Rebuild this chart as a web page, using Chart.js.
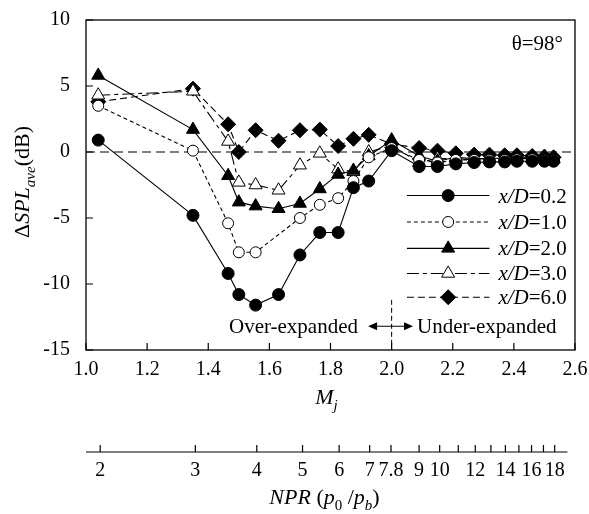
<!DOCTYPE html>
<html lang="en">
<head>
  <meta charset="UTF-8">
  <title>Delta SPL vs Mj</title>
  <script src="https://cdn.jsdelivr.net/npm/chart.js@4.4.1/dist/chart.umd.min.js"></script>
  <style>
    html, body { margin: 0; padding: 0; background: #fff; }
    #chart { display: block; }
  </style>
</head>
<body>
  <canvas id="chart" width="589" height="514"></canvas>
  <script>
    // fully expanded jet Mach number of each run (shared by every series)
    const machJ = [1.04, 1.35, 1.465, 1.50, 1.555, 1.63, 1.70, 1.765, 1.825, 1.875, 1.925, 2.00,
                   2.09, 2.15, 2.21, 2.27, 2.32, 2.37, 2.41, 2.46, 2.50, 2.53];
    const xdLabels = ['0.2', '1.0', '2.0', '3.0', '6.0'];
    const splXD02 = [0.9, -4.8, -9.2, -10.8, -11.6, -10.8, -7.8, -6.1, -6.1, -2.7, -2.2, 0.1,
                     -1.1, -1.1, -0.9, -0.8, -0.75, -0.75, -0.7, -0.7, -0.7, -0.7];
    const splXD10 = [3.5, 0.1, -5.4, -7.6, -7.6, null, -5.0, -4.0, -3.5, -2.2, -0.4, 0.3,
                     -0.6, -0.8, -0.6, -0.6, -0.6, -0.6, -0.55, -0.55, -0.6, -0.6];
    const splXD20 = [5.8, 1.7, -1.8, -3.8, -4.1, -4.3, -3.9, -2.8, -1.7, -1.4, -0.3, 0.9,
                     -0.3, -0.7, -0.4, -0.5, -0.5, -0.45, -0.4, -0.45, -0.5, -0.55];
    const splXD30 = [4.3, 4.6, 0.8, -2.3, -2.5, -2.9, -1.0, -0.1, -1.3, -1.5, 0.0, 0.5,
                     -0.8, -0.5, -0.5, -0.6, -0.55, -0.5, -0.5, -0.5, -0.5, -0.5];
    const splXD60 = [3.8, 4.8, 2.1, 0.0, 1.65, 0.85, 1.65, 1.7, 0.45, 1.0, 1.3, 0.6,
                     0.3, 0.1, -0.1, -0.2, -0.2, -0.25, -0.25, -0.3, -0.35, -0.4];

    const machTicks = [1.0, 1.2, 1.4, 1.6, 1.8, 2.0, 2.2, 2.4, 2.6];
    const yTicks = [-15, -10, -5, 0, 5, 10];
    const nprTicks = [2, 3, 4, 5, 6, 7, 7.8, 9, 10, 11, 12, 13, 14, 15, 16, 17, 18];
    const nprLabels = ['2', '3', '4', '5', '6', '7', '7.8', '9', '10', '', '12', '', '14', '', '16', '', '18'];

    const FONT = '"Liberation Serif", "Times New Roman", serif';

    // isentropic relation NPR -> Mj, used to place the NPR ticks on the Mj scale
    function nprToMach(npr) {
      return Math.sqrt(5 * (Math.pow(npr, 1 / 3.5) - 1));
    }

    function series(i, values, style) {
      return Object.assign({
        label: 'x/D=' + xdLabels[i],
        data: values.map((v, k) => ({ x: machJ[k], y: v })),
        borderColor: '#000',
        borderWidth: 1.1,
        pointBorderColor: '#000',
        pointBorderWidth: 1,
        pointHoverRadius: 0,
        spanGaps: true,
        tension: 0,
        xAxisID: 'x',
        yAxisID: 'y'
      }, style);
    }

    const datasets = [
      series(0, splXD02, { pointStyle: 'circle', pointRadius: 6, pointBackgroundColor: '#000', borderDash: [] }),
      series(1, splXD10, { pointStyle: 'circle', pointRadius: 5.5, pointBackgroundColor: '#fff', borderDash: [4, 3] }),
      series(2, splXD20, { pointStyle: 'triangle', pointRadius: 7.5, pointBackgroundColor: '#000', borderDash: [] }),
      series(3, splXD30, { pointStyle: 'triangle', pointRadius: 7.5, pointBackgroundColor: '#fff', borderDash: [12, 4, 4, 4] }),
      series(4, splXD60, { pointStyle: 'rectRot', pointRadius: 7.5, pointBackgroundColor: '#000', borderDash: [7, 4] })
    ];

    // text with italic parts and subscripts
    function richText(ctx, parts, x, y, size, align) {
      const pieces = parts.map(p => {
        const s = p.sub ? Math.round(size * 0.68) : size;
        const f = (p.it ? 'italic ' : '') + s + 'px ' + FONT;
        ctx.font = f;
        return { t: p.t, f: f, w: ctx.measureText(p.t).width, dy: p.sub ? size * 0.28 : 0 };
      });
      const total = pieces.reduce((a, p) => a + p.w, 0);
      let cx = align === 'center' ? x - total / 2 : (align === 'right' ? x - total : x);
      ctx.textAlign = 'left';
      ctx.textBaseline = 'alphabetic';
      pieces.forEach(p => {
        ctx.font = p.f;
        ctx.fillText(p.t, cx, y + p.dy);
        cx += p.w;
      });
    }

    function marker(ctx, style, x, y, r, fill) {
      ctx.beginPath();
      if (style === 'circle') {
        ctx.arc(x, y, r, 0, Math.PI * 2);
      } else if (style === 'triangle') {
        for (let k = 0; k < 3; k++) {
          const a = k * 2 * Math.PI / 3;
          const px = x + Math.sin(a) * r, py = y - Math.cos(a) * r;
          k ? ctx.lineTo(px, py) : ctx.moveTo(px, py);
        }
        ctx.closePath();
      } else {
        ctx.moveTo(x, y - r); ctx.lineTo(x + r, y); ctx.lineTo(x, y + r); ctx.lineTo(x - r, y);
        ctx.closePath();
      }
      ctx.fillStyle = fill;
      ctx.fill();
      ctx.setLineDash([]);
      ctx.lineWidth = 1;
      ctx.stroke();
    }

    const decor = {
      id: 'decor',
      beforeDatasetsDraw(chart) {
        const { ctx, chartArea: a, scales: { x, y } } = chart;
        ctx.save();
        ctx.strokeStyle = '#000';
        ctx.lineWidth = 1.2;
        ctx.setLineDash([9, 5]);
        const y0 = y.getPixelForValue(0);
        ctx.beginPath(); ctx.moveTo(a.left, y0); ctx.lineTo(a.right, y0); ctx.stroke();
        // over / under expanded divider
        const xb = x.getPixelForValue(2.0);
        ctx.lineWidth = 1;
        ctx.setLineDash([5, 3]);
        ctx.beginPath(); ctx.moveTo(xb, y.getPixelForValue(-11.2)); ctx.lineTo(xb, a.bottom); ctx.stroke();
        ctx.restore();
      },
      afterDraw(chart) {
        const { ctx, chartArea: a, scales: { x, y, x2 } } = chart;
        ctx.save();
        ctx.strokeStyle = '#000';
        ctx.fillStyle = '#000';
        ctx.setLineDash([]);
        ctx.lineWidth = 1.3;
        ctx.strokeRect(a.left, a.top, a.right - a.left, a.bottom - a.top);

        // inward tick marks
        ctx.lineWidth = 1.2;
        ctx.beginPath();
        x.ticks.forEach((t, i) => {
          const px = x.getPixelForTick(i);
          ctx.moveTo(px, a.bottom); ctx.lineTo(px, a.bottom - 7);
        });
        y.ticks.forEach((t, i) => {
          const py = y.getPixelForTick(i);
          ctx.moveTo(a.left, py); ctx.lineTo(a.left + 7, py);
        });
        // NPR axis line and ticks
        const ly = x2.top + 12;
        ctx.moveTo(a.left, ly); ctx.lineTo(x2.getPixelForValue(2.575), ly);
        x2.ticks.forEach((t, i) => {
          const px = x2.getPixelForTick(i);
          ctx.moveTo(px, ly); ctx.lineTo(px, ly - 7);
        });
        ctx.stroke();

        // axis titles
        richText(ctx, [{ t: 'M', it: true }, { t: 'j', it: true, sub: true }],
          (a.left + a.right) / 2 - 4, x.top + 54, 22, 'center');
        richText(ctx, [{ t: 'NPR', it: true }, { t: ' (' }, { t: 'p', it: true }, { t: '0', sub: true },
          { t: ' /' }, { t: 'p', it: true }, { t: 'b', it: true, sub: true }, { t: ')' }],
          (a.left + a.right) / 2 - 6, x2.top + 64, 22, 'center');
        ctx.save();
        ctx.translate(29, 182);
        ctx.rotate(-Math.PI / 2);
        richText(ctx, [{ t: '\u0394' }, { t: 'SPL', it: true }, { t: 'ave', it: true, sub: true }, { t: '(dB)' }],
          0, 0, 22, 'center');
        ctx.restore();

        // annotations
        ctx.font = '21px ' + FONT;
        ctx.textBaseline = 'alphabetic';
        ctx.textAlign = 'right';
        ctx.fillText('\u03b8=98\u00b0', a.right - 12, a.top + 30);
        const ty = y.getPixelForValue(-13.7);
        ctx.fillText('Over-expanded', x.getPixelForValue(1.89), ty);
        ctx.textAlign = 'left';
        ctx.fillText('Under-expanded', x.getPixelForValue(2.083), ty);
        // double arrow
        const ay = y.getPixelForValue(-13.2);
        const x1 = x.getPixelForValue(1.923), xr = x.getPixelForValue(2.07);
        ctx.lineWidth = 1.2;
        ctx.beginPath(); ctx.moveTo(x1 + 6, ay); ctx.lineTo(xr - 6, ay); ctx.stroke();
        ctx.beginPath();
        ctx.moveTo(x1, ay); ctx.lineTo(x1 + 9, ay - 4); ctx.lineTo(x1 + 9, ay + 4); ctx.closePath();
        ctx.moveTo(xr, ay); ctx.lineTo(xr - 9, ay - 4); ctx.lineTo(xr - 9, ay + 4); ctx.closePath();
        ctx.fill();

        // legend inside the plot
        const lx0 = x.getPixelForValue(2.05), lx1 = x.getPixelForValue(2.32);
        const rowY = [-3.3, -5.3, -7.3, -9.2, -11.0];
        chart.data.datasets.forEach((ds, i) => {
          const py = y.getPixelForValue(rowY[i]);
          ctx.strokeStyle = '#000';
          ctx.lineWidth = ds.borderWidth;
          ctx.setLineDash(ds.borderDash);
          ctx.beginPath(); ctx.moveTo(lx0, py); ctx.lineTo(lx1, py); ctx.stroke();
          marker(ctx, ds.pointStyle, (lx0 + lx1) / 2, py, ds.pointRadius, ds.pointBackgroundColor);
          ctx.fillStyle = '#000';
          richText(ctx, [{ t: 'x/D', it: true }, { t: '=' + xdLabels[i] }], lx1 + 9, py + 7, 21, 'left');
        });
        ctx.restore();
      }
    };

    new Chart(document.getElementById('chart'), {
      type: 'line',
      data: { datasets: datasets },
      options: {
        responsive: false,
        animation: false,
        devicePixelRatio: 1,
        layout: { autoPadding: false, padding: { left: 0, right: 14, top: 15, bottom: 0 } },
        plugins: { legend: { display: false }, tooltip: { enabled: false } },
        scales: {
          x: {
            type: 'linear', position: 'bottom', min: 1.0, max: 2.6, weight: 0,
            afterBuildTicks: s => { s.ticks = machTicks.map(v => ({ value: v })); },
            ticks: { autoSkip: false, maxRotation: 0, padding: 0, color: '#000',
                     font: { family: FONT, size: 20 }, callback: v => v.toFixed(1) },
            grid: { display: false }, border: { display: false },
            afterFit: s => { s.height = 90; }
          },
          x2: {
            type: 'linear', position: 'bottom', min: 1.0, max: 2.6, weight: 1,
            afterBuildTicks: s => { s.ticks = nprTicks.map(n => ({ value: nprToMach(n) })); },
            ticks: { autoSkip: false, maxRotation: 0, padding: 11, color: '#000',
                     font: { family: FONT, size: 20 }, callback: (v, i) => nprLabels[i] },
            grid: { display: false }, border: { display: false },
            afterFit: s => { s.height = 74; }
          },
          y: {
            type: 'linear', min: -15, max: 10,
            afterBuildTicks: s => { s.ticks = yTicks.map(v => ({ value: v })); },
            ticks: { padding: 8, color: '#000', font: { family: FONT, size: 20 } },
            grid: { display: false }, border: { display: false },
            afterFit: s => { s.width = 86; }
          }
        }
      },
      plugins: [decor]
    });
  </script>
</body>
</html>
